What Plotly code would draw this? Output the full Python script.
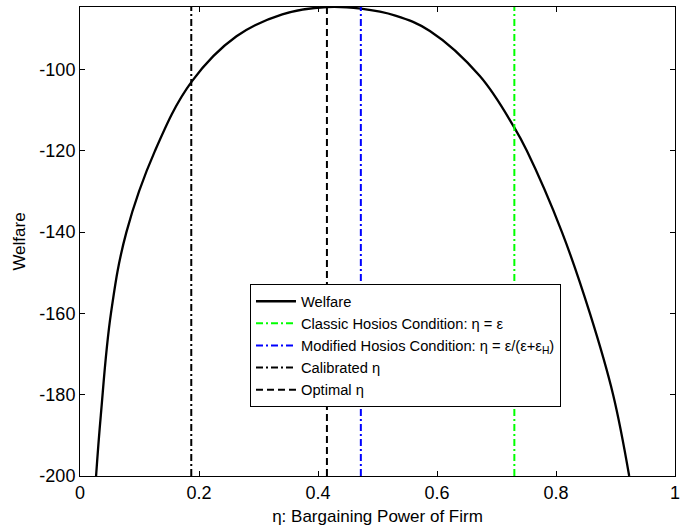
import plotly.graph_objects as go

# Welfare curve
eta = [0.027, 0.035, 0.052, 0.078, 0.126, 0.188, 0.263, 0.34, 0.415, 0.472,
       0.53, 0.588, 0.672, 0.730, 0.751, 0.810, 0.857, 0.896, 0.923]
welfare = [-200, -185, -160, -140, -120, -102.9, -91.8, -86.4, -84.6, -85.0,
           -86.7, -90.5, -101.6, -114.3, -120, -140, -160, -180, -200]

# Vertical reference lines
eta_classic = 0.73
eta_modified = 0.472
eta_calibrated = 0.187
eta_optimal = 0.415

y_min, y_max = -200, -84.6
x_ticks = [0, 0.2, 0.4, 0.6, 0.8, 1]
x_tick_text = ["0", "0.2", "0.4", "0.6", "0.8", "1"]
y_ticks = [-200, -180, -160, -140, -120, -100]
y_tick_text = ["-200", "-180", "-160", "-140", "-120", "-100"]

dashdot = "7px,3px,2px,3px"

fig = go.Figure()
fig.add_trace(go.Scatter(x=eta, y=welfare, mode="lines", name="Welfare",
                         line=dict(color="black", width=2.3, shape="spline", smoothing=1.1)))
fig.add_trace(go.Scatter(x=[eta_classic, eta_classic], y=[y_min, y_max], mode="lines",
                         name="Classic Hosios Condition: η = ε",
                         line=dict(color="#00FF00", width=2, dash=dashdot)))
fig.add_trace(go.Scatter(x=[eta_modified, eta_modified], y=[y_min, y_max], mode="lines",
                         name="Modified Hosios Condition: η = ε/(ε+ε<sub>H</sub>)",
                         line=dict(color="#0000FF", width=2, dash=dashdot)))
fig.add_trace(go.Scatter(x=[eta_calibrated, eta_calibrated], y=[y_min, y_max], mode="lines",
                         name="Calibrated η",
                         line=dict(color="black", width=2, dash=dashdot)))
fig.add_trace(go.Scatter(x=[eta_optimal, eta_optimal], y=[y_min, y_max], mode="lines",
                         name="Optimal η",
                         line=dict(color="black", width=2, dash="7px,4px")))

font_family = "Liberation Sans, Arial, sans-serif"
fig.update_layout(
    width=680, height=528,
    margin=dict(l=80, r=5, t=7, b=52),
    paper_bgcolor="white", plot_bgcolor="white",
    font=dict(family=font_family, color="black", size=18),
    showlegend=True,
    legend=dict(x=0.2857, y=0.409, xanchor="left", yanchor="top",
                bgcolor="white", bordercolor="black", borderwidth=1,
                font=dict(size=14.7, family=font_family, color="black"),
                itemwidth=40, tracegroupgap=0),
    xaxis=dict(range=[0, 1], tickvals=x_ticks, ticktext=x_tick_text,
               ticks="inside", ticklen=5, tickcolor="black", tickwidth=1,
               showline=True, linecolor="black", linewidth=1, mirror="ticks",
               showgrid=False, zeroline=False, automargin=False,
               ticklabeloverflow="allow",
               title=dict(text="η: Bargaining Power of Firm", font=dict(size=17), standoff=8),
               tickfont=dict(size=18)),
    yaxis=dict(range=[y_min, y_max], tickvals=y_ticks, ticktext=y_tick_text,
               ticks="inside", ticklen=5, tickcolor="black", tickwidth=1,
               showline=True, linecolor="black", linewidth=1, mirror="ticks",
               showgrid=False, zeroline=False, automargin=False,
               ticklabeloverflow="allow",
               title=dict(text="Welfare", font=dict(size=17), standoff=9),
               tickfont=dict(size=18)),
)

fig.write_html("out.html",
               config={"displayModeBar": False},
               post_script="document.body.style.margin='0px';document.body.style.overflow='hidden';")
